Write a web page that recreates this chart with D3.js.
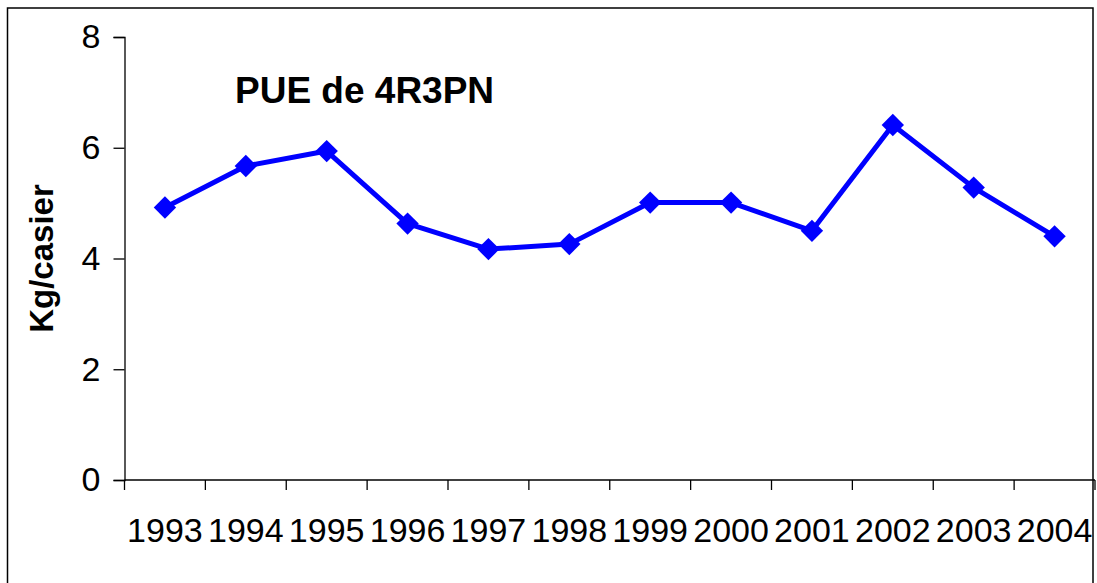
<!DOCTYPE html>
<html>
<head>
<meta charset="utf-8">
<script src="https://cdn.jsdelivr.net/npm/d3@7"></script>
<style>
  body { margin: 0; background: #fff; }
  text { font-family: "Liberation Sans", Arial, sans-serif; }
</style>
</head>
<body>
<div id="chart"></div>
<script>
// PUE de 4R3PN, kg per trap by year
let years = ["1993","1994","1995","1996","1997","1998","1999","2000","2001","2002","2003","2004"];
let pue = [4.92, 5.67, 5.94, 4.63, 4.17, 4.26, 5.01, 5.01, 4.50, 6.41, 5.28, 4.40];
let yTicks = [0, 2, 4, 6, 8];

let svgWidth = 1097, svgHeight = 583;
let margin = {top: 37, right: 2, bottom: 103, left: 124.5};

let svg = d3.select("#chart").append("svg")
    .attr("width", svgWidth)
    .attr("height", svgHeight);

// outer frame
svg.append("rect")
    .attr("x", 7.5).attr("y", 8)
    .attr("width", 1085.5).attr("height", 600)
    .attr("fill", "none")
    .attr("stroke", "#000")
    .attr("stroke-width", 1.5);

let x = d3.scaleBand().domain(years).range([margin.left, svgWidth - margin.right]).padding(0),
    y = d3.scaleLinear().domain([0, 8]).range([svgHeight - margin.bottom, margin.top]);

let y0 = y(0);

// y axis
let yAxis = svg.append("g")
    .attr("transform", "translate(" + margin.left + ",0)")
    .call(d3.axisLeft(y).tickValues(yTicks).tickSize(11).tickPadding(13));
yAxis.select(".domain").attr("stroke", "#000").attr("stroke-width", 1.3);
yAxis.selectAll(".tick line").attr("stroke", "#000").attr("stroke-width", 1.3);
yAxis.selectAll("text")
    .attr("font-size", "34px")
    .attr("fill", "#000")
    .style("font-family", "'Liberation Sans', Arial, sans-serif");

// x axis line with ticks at band boundaries
let bounds = years.map(function(d) { return x(d); }).concat([x(years[years.length - 1]) + x.step()]);
svg.append("line")
    .attr("x1", x.range()[0]).attr("x2", x.range()[1])
    .attr("y1", y0).attr("y2", y0)
    .attr("stroke", "#000").attr("stroke-width", 1.3);
svg.selectAll(".xtick")
    .data(bounds)
    .enter().append("line")
    .attr("class", "xtick")
    .attr("x1", function(d) { return d; }).attr("x2", function(d) { return d; })
    .attr("y1", y0).attr("y2", y0 + 10)
    .attr("stroke", "#000").attr("stroke-width", 1.3);

svg.selectAll(".xlabel")
    .data(years)
    .enter().append("text")
    .attr("class", "xlabel")
    .attr("x", function(d) { return x(d) + x.bandwidth() / 2; })
    .attr("y", y0 + 62)
    .attr("text-anchor", "middle")
    .attr("font-size", "34px")
    .attr("fill", "#000")
    .text(function(d) { return d; });

// y label
svg.append("text")
    .attr("transform", "translate(53," + ((margin.top + y0) / 2) + ") rotate(-90)")
    .attr("text-anchor", "middle")
    .attr("font-size", "33px")
    .attr("font-weight", "bold")
    .attr("fill", "#000")
    .text("Kg/casier");

// title
svg.append("text")
    .attr("x", 235)
    .attr("y", 103)
    .attr("font-size", "37px")
    .attr("font-weight", "bold")
    .attr("fill", "#000")
    .text("PUE de 4R3PN");

// line
let line = d3.line()
    .x(function(d, i) { return x(years[i]) + x.bandwidth() / 2; })
    .y(function(d) { return y(d); });

svg.append("path")
    .datum(pue)
    .attr("d", line)
    .attr("fill", "none")
    .attr("stroke", "#0000FF")
    .attr("stroke-width", 5)
    .attr("stroke-linejoin", "round");

// diamond markers
svg.selectAll(".marker")
    .data(pue)
    .enter().append("path")
    .attr("class", "marker")
    .attr("d", d3.symbol().type(d3.symbolSquare).size(250))
    .attr("transform", function(d, i) {
        return "translate(" + (x(years[i]) + x.bandwidth() / 2) + "," + y(d) + ") rotate(45)";
    })
    .attr("fill", "#0000FF");
</script>
</body>
</html>
